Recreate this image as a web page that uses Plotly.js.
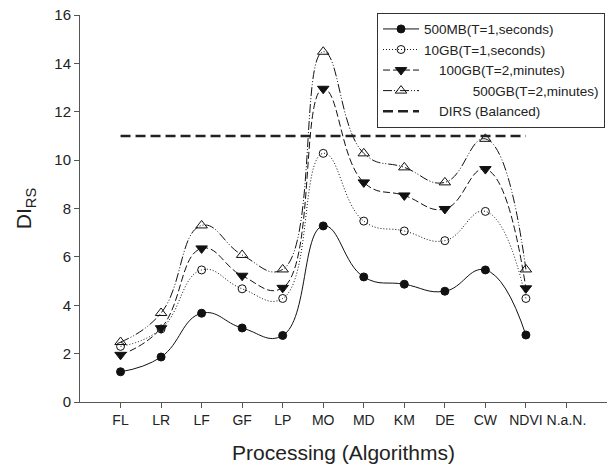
<!DOCTYPE html>
<html>
<head>
<meta charset="utf-8">
<script src="https://cdn.plot.ly/plotly-3.0.1.min.js"></script>
<style>html,body{margin:0;padding:0;background:#fff;}#chart{width:614px;height:470px;}</style>
</head>
<body>
<div id="chart"></div>
<script>
const categories = ["FL","LR","LF","GF","LP","MO","MD","KM","DE","CW","NDVI","N.a.N."];
const dataCats = ["FL","LR","LF","GF","LP","MO","MD","KM","DE","CW","NDVI"];
const s500MB = [1.25, 1.86, 3.67, 3.06, 2.75, 7.28, 5.17, 4.87, 4.58, 5.46, 2.77];
const s10GB  = [2.30, 3.02, 5.46, 4.68, 4.28, 10.28, 7.48, 7.07, 6.67, 7.88, 4.28];
const s100GB = [1.95, 3.05, 6.35, 5.22, 4.72, 12.95, 9.08, 8.54, 7.98, 9.63, 4.70];
const s500GB = [2.48, 3.68, 7.30, 6.08, 5.48, 14.48, 10.28, 9.70, 9.08, 10.88, 5.48];
const dirsCats = ["FL","NDVI"];
const dirsVals = [11, 11];
const nb = n => "\u00a0".repeat(n);
const names = ["500MB(T=1,seconds)", "10GB(T=1,seconds)", nb(4) + "100GB(T=2,minutes)", nb(13) + "500GB(T=2,minutes)", nb(4) + "DIRS (Balanced)"];

const lineCommon = {shape: 'spline', smoothing: 1.3, width: 1, color: '#111'};
const traces = [
  {x: dataCats, y: s500MB, name: names[0], mode: 'lines+markers', type: 'scatter',
   line: Object.assign({}, lineCommon, {dash: 'solid'}),
   marker: {symbol: 'circle', size: 8, color: '#111', line: {color: '#111', width: 1}}},
  {x: dataCats, y: s10GB, name: names[1], mode: 'lines+markers', type: 'scatter',
   line: Object.assign({}, lineCommon, {dash: '1px,2px'}),
   marker: {symbol: 'circle-open', size: 8, color: '#111', line: {color: '#111', width: 1}}},
  {x: dataCats, y: s100GB, name: names[2], mode: 'lines+markers', type: 'scatter',
   line: Object.assign({}, lineCommon, {dash: '7px,3px'}),
   marker: {symbol: 'triangle-down', size: 10, color: '#111', line: {color: '#111', width: 1}}},
  {x: dataCats, y: s500GB, name: names[3], mode: 'lines+markers', type: 'scatter',
   line: Object.assign({}, lineCommon, {dash: '9px,2px,1px,2px,1px,2px'}),
   marker: {symbol: 'triangle-up-open', size: 10, color: '#111', line: {color: '#111', width: 1}}},
  {x: dirsCats, y: dirsVals, name: names[4], mode: 'lines', type: 'scatter',
   line: {color: '#222', width: 2.5, dash: '10px,5px'}}
];

const layout = {
  width: 614, height: 470,
  margin: {l: 80, r: 7, t: 15, b: 68, autoexpand: false},
  paper_bgcolor: '#fff', plot_bgcolor: '#fff',
  font: {family: 'Liberation Sans, Arial, sans-serif', size: 14, color: '#222'},
  showlegend: true,
  legend: {x: 0.5636, y: 1.006, xanchor: 'left', yanchor: 'top',
    bordercolor: '#333', borderwidth: 1, bgcolor: '#fff',
    font: {size: 13.5, color: '#222'}, tracegroupgap: 0, itemwidth: 36},
  xaxis: {
    type: 'category', categoryorder: 'array', categoryarray: categories,
    range: [-1, 12], showgrid: false, zeroline: false,
    showline: true, linecolor: '#555', linewidth: 1,
    ticks: 'outside', ticklen: 5, tickcolor: '#555', tickwidth: 1,
    tickfont: {size: 14, color: '#222'},
    title: {text: 'Processing (Algorithms)', font: {size: 21, color: '#222'}, standoff: 18}
  },
  yaxis: {
    range: [0, 16], dtick: 2, showgrid: false, zeroline: false,
    showline: true, linecolor: '#555', linewidth: 1,
    ticks: 'outside', ticklen: 5, tickcolor: '#555', tickwidth: 1,
    tickfont: {size: 15, color: '#222'},
    title: {text: 'DI<sub>RS</sub>', font: {size: 21, color: '#222'}, standoff: 16}
  }
};

Plotly.newPlot('chart', traces, layout, {displayModeBar: false, staticPlot: true});
</script>
</body>
</html>
